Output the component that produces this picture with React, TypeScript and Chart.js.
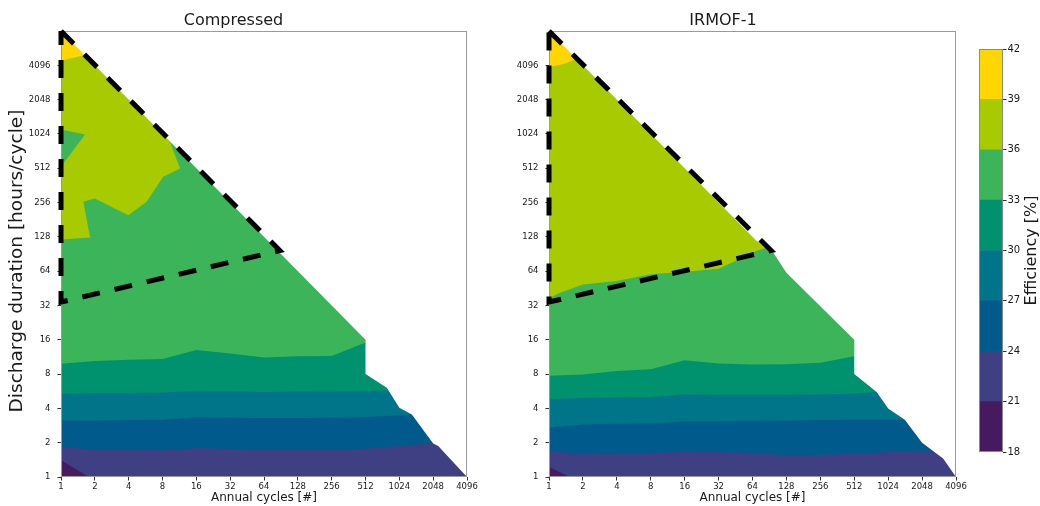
import React, { useEffect, useRef } from 'react';
import { Chart, registerables } from 'chart.js';

Chart.register(...registerables);

const FONT = "'DejaVu Sans', 'Liberation Sans', sans-serif";
const TEXT = '#1a1a1a';

// colour levels (efficiency %) and band colours
const levels = [18, 21, 24, 27, 30, 33, 36, 39, 42];
const bandColors = ['#47195f', '#3f3f84', '#005a8c', '#00758a', '#00916f', '#3cb55a', '#a8ca00', '#ffd700'];

// tick labels
const xTicks = [1, 2, 4, 8, 16, 32, 64, 128, 256, 512, 1024, 2048, 4096];
const yTicks = [1, 2, 4, 8, 16, 32, 64, 128, 256, 512, 1024, 2048, 4096];
const X_MIN = 1;
const X_MAX = 4096;
const Y_MIN = 1;
const Y_MAX = 8192;

// Geometry, in octaves: [log2(annual cycles), log2(hours/cycle)]
// ---- Compressed ----
const cmpDomain = [[0, 13], [9, 4], [9, 3], [9.63, 2.6], [10, 2.02], [10.37, 1.82], [11, 0.98], [11.15, 0.9], [12, 0]];
const cmpC21 = [[0, 0.49], [0.82, 0], [12, 0]];
const cmpC24 = [[0, 0.875], [1, 0.8], [2, 0.79], [3, 0.78], [4, 0.84], [5, 0.82], [6, 0.8], [7, 0.8], [8, 0.8], [9, 0.82], [10, 0.9], [11, 0.99]];
const cmpC27 = [[0, 1.65], [1, 1.65], [2, 1.66], [3, 1.67], [4, 1.74], [5, 1.73], [6, 1.72], [7, 1.72], [8, 1.73], [9, 1.75], [10, 1.8], [10.37, 1.82]];
const cmpC30 = [[0, 2.43], [1, 2.44], [2, 2.45], [3, 2.46], [4, 2.51], [5, 2.5], [6, 2.48], [7, 2.49], [8, 2.5], [9, 2.51], [9.68, 2.52]];
const cmpC33 = [[0, 3.3], [1, 3.38], [2, 3.42], [3, 3.44], [4, 3.7], [5, 3.6], [6, 3.48], [7, 3.52], [8, 3.53], [9, 3.92]];
const cmpC36 = [[0, 6.92], [0.86, 6.98], [0.66, 8.02], [1, 8.12], [1.99, 7.63], [2.53, 8.02], [3.02, 8.75], [3.52, 8.99], [3.22, 9.77]];
const cmpHole36 = [[0, 10.13], [0.71, 9.98], [0, 9.04]];
const cmpC39 = [[0, 12.13], [0.7, 12.3]];
const cmpDash = [[0, 13], [6.47, 6.6], [0, 5.1], [0, 13]];

// ---- IRMOF-1 ----
const irmDomain = [[0, 13], [6.1, 6.9], [6.6, 6.56], [7, 5.95], [9, 4], [9, 3], [9.66, 2.48], [10, 2], [10.49, 1.67], [11, 1], [11.62, 0.54], [12, 0]];
const irmC21 = [[0, 0.29], [0.61, 0], [12, 0]];
const irmC24 = [[0, 0.75], [1, 0.66], [2, 0.68], [3, 0.71], [4, 0.73], [5, 0.72], [6, 0.7], [7, 0.63], [8, 0.65], [9, 0.68], [10, 0.73], [11, 0.75], [11.33, 0.75]];
const irmC27 = [[0, 1.44], [1, 1.53], [2, 1.55], [3, 1.56], [4, 1.62], [5, 1.63], [6, 1.64], [7, 1.65], [8, 1.66], [9, 1.67], [10, 1.67], [10.49, 1.67]];
const irmC30 = [[0, 2.27], [1, 2.3], [2, 2.32], [3, 2.33], [4, 2.41], [5, 2.4], [6, 2.4], [7, 2.4], [8, 2.41], [9, 2.43], [9.66, 2.48]];
const irmC33 = [[0, 2.95], [1, 2.99], [2, 3.09], [3, 3.14], [4, 3.4], [5, 3.31], [6, 3.28], [7, 3.29], [8, 3.33], [9, 3.52]];
const irmC36 = [[0, 5.2], [0.27, 5.35], [1, 5.61], [2, 5.71], [3, 5.91], [4, 5.98], [5, 6.07], [5.55, 6.32], [6, 6.55], [6.4, 6.68]];
const irmC39 = [[0, 11.95], [0.4, 12.03], [0.86, 12.2]];
const irmDash = [[0, 13], [6.55, 6.6], [0, 5.1], [0, 13]];

type Pts = number[][];

const TOP_E = Math.log2(Y_MAX);
const RIGHT_E = Math.log2(X_MAX);

const toXY = (pts: Pts) => pts.map(([a, b]) => ({ x: Math.pow(2, a), y: Math.pow(2, b) }));
const regionAbove = (line: Pts): Pts => [...line, [line[line.length - 1][0], TOP_E], [line[0][0], TOP_E]];
const outsideDomain = (domain: Pts): Pts => [...domain, [RIGHT_E, TOP_E]];
const fullRect: Pts = [[0, 0], [RIGHT_E, 0], [RIGHT_E, TOP_E], [0, TOP_E]];

const poly = (pts: Pts, color: string, label: string) => ({
  label,
  data: toXY(pts),
  showLine: true,
  fill: 'shape',
  backgroundColor: color,
  borderColor: 'rgba(0,0,0,0)',
  borderWidth: 0,
  pointRadius: 0,
  pointHoverRadius: 0,
  pointHitRadius: 0,
});

type PanelSpec = {
  title: string;
  left: number;
  width: number;
  yAxisW: number;
  padRight: number;
  yTitle: string;
  domain: Pts;
  contours: Pts[];
  hole: Pts | null;
  dash: Pts;
};

const panels: PanelSpec[] = [
  {
    title: 'Compressed', left: 0, width: 528, yAxisW: 61, padRight: 61, yTitle: 'Discharge duration [hours/cycle]',
    domain: cmpDomain, contours: [cmpC21, cmpC24, cmpC27, cmpC30, cmpC33, cmpC36, cmpC39], hole: cmpHole36, dash: cmpDash,
  },
  {
    title: 'IRMOF-1', left: 490, width: 526, yAxisW: 59, padRight: 60, yTitle: '',
    domain: irmDomain, contours: [irmC21, irmC24, irmC27, irmC30, irmC33, irmC36, irmC39], hole: null, dash: irmDash,
  },
];

const framePlugin = {
  id: 'frame',
  afterDatasetDraw(chart: any, args: any) {
    const ds = chart.data.datasets[args.index];
    if (ds.label !== 'mask') return;
    const { left, top, right, bottom } = chart.chartArea;
    const ctx = chart.ctx;
    ctx.save();
    ctx.strokeStyle = '#9a9a9a';
    ctx.lineWidth = 1;
    ctx.strokeRect(Math.round(left) + 0.5, Math.round(top) + 0.5, Math.round(right - left) - 1, Math.round(bottom - top) - 1);
    ctx.restore();
  },
  afterDraw(chart: any) {
    const text = chart.options.plugins.frame?.yTitle;
    if (!text) return;
    const ctx = chart.ctx;
    const { top, bottom } = chart.chartArea;
    ctx.save();
    ctx.translate(17.5, (top + bottom) / 2 + 7);
    ctx.rotate(-Math.PI / 2);
    ctx.fillStyle = TEXT;
    ctx.font = `18.5px ${FONT}`;
    ctx.textAlign = 'center';
    ctx.textBaseline = 'middle';
    ctx.fillText(text, 0, 0);
    ctx.restore();
  },
};

function buildDatasets(spec: PanelSpec) {
  const list: any[] = [];
  list.push(poly(fullRect, bandColors[0], `${levels[0]}-${levels[1]}`));
  spec.contours.forEach((c, i) => {
    list.push(poly(regionAbove(c), bandColors[i + 1], `>${levels[i + 1]}`));
    if (i === 5 && spec.hole) list.push(poly(spec.hole, bandColors[5], 'hole'));
  });
  list.push(poly(outsideDomain(spec.domain), '#ffffff', 'mask'));
  list.push({
    label: 'boundary',
    data: toXY(spec.dash),
    showLine: true,
    fill: false,
    borderColor: '#000000',
    borderWidth: 5,
    borderDash: [18, 15],
    pointRadius: 0,
    pointHoverRadius: 0,
    pointHitRadius: 0,
    clip: false,
  });
  const n = list.length;
  list.forEach((d, i) => { d.order = n - i; });
  return list;
}

function Panel({ spec }: { spec: PanelSpec }) {
  const ref = useRef<HTMLCanvasElement>(null);
  useEffect(() => {
    const tickFont = { family: FONT, size: 8.5 };
    const gridOpts = { display: true, drawOnChartArea: false, drawTicks: true, tickLength: 3.5, color: '#333333', lineWidth: 1 };
    const chart = new Chart(ref.current as HTMLCanvasElement, {
      type: 'scatter',
      data: { datasets: buildDatasets(spec) as any },
      options: {
        animation: false,
        responsive: false,
        events: [],
        layout: { padding: { left: 0, right: spec.padRight, top: 0, bottom: 0 } },
        plugins: {
          legend: { display: false },
          tooltip: { enabled: false },
          frame: { yTitle: spec.yTitle },
          title: {
            display: true,
            text: spec.title,
            color: TEXT,
            font: { family: FONT, size: 16, weight: 'normal' },
            padding: { top: 10.8, bottom: 1 },
          },
        },
        scales: {
          x: {
            type: 'logarithmic',
            min: X_MIN,
            max: X_MAX,
            afterBuildTicks: (s: any) => { s.ticks = xTicks.map((v) => ({ value: v })); },
            afterFit: (s: any) => { s.height = 29; },
            ticks: { autoSkip: false, maxRotation: 0, minRotation: 0, padding: 1, color: TEXT, font: tickFont, callback: (v: any) => String(v) },
            grid: gridOpts,
            border: { display: false },
            title: { display: true, text: 'Annual cycles [#]', color: TEXT, font: { family: FONT, size: 12 }, padding: { top: 0, bottom: 1.2 } },
          },
          y: {
            type: 'logarithmic',
            min: Y_MIN,
            max: Y_MAX,
            afterBuildTicks: (s: any) => { s.ticks = yTicks.map((v) => ({ value: v })); },
            afterFit: (s: any) => { s.width = spec.yAxisW; },
            ticks: { autoSkip: false, padding: 7, color: TEXT, font: tickFont, callback: (v: any) => String(v) },
            grid: gridOpts,
            border: { display: false },
          },
        },
      } as any,
      plugins: [framePlugin],
    });
    return () => chart.destroy();
  }, []);
  return (
    <canvas
      ref={ref}
      width={spec.width}
      height={506}
      style={{ position: 'absolute', left: spec.left, top: 0, width: spec.width, height: 506 }}
    />
  );
}

const colorbarPlugin = {
  id: 'cbar',
  afterDraw(chart: any) {
    const ctx = chart.ctx;
    const { left, top, right, bottom } = chart.chartArea;
    ctx.save();
    ctx.strokeStyle = '#8a8a8a';
    ctx.lineWidth = 1;
    ctx.strokeRect(Math.round(left) + 0.5, Math.round(top) + 0.5, Math.round(right - left) - 1, Math.round(bottom - top) - 1);
    ctx.translate(72, (top + bottom) / 2);
    ctx.rotate(-Math.PI / 2);
    ctx.fillStyle = TEXT;
    ctx.font = `16px ${FONT}`;
    ctx.textAlign = 'center';
    ctx.textBaseline = 'middle';
    ctx.fillText('Efficiency [%]', 0, 0);
    ctx.restore();
  },
};

function Colorbar() {
  const ref = useRef<HTMLCanvasElement>(null);
  useEffect(() => {
    const chart = new Chart(ref.current as HTMLCanvasElement, {
      type: 'bar',
      data: {
        labels: [''],
        datasets: bandColors.map((c, i) => ({
          label: `${levels[i]}-${levels[i + 1]}`,
          data: [[levels[i], levels[i + 1]]],
          backgroundColor: c,
          borderWidth: 0,
          grouped: false,
          barPercentage: 1,
          categoryPercentage: 1,
        })) as any,
      },
      options: {
        animation: false,
        responsive: false,
        events: [],
        layout: { padding: { left: 19, right: 0, top: 49, bottom: 54 } },
        plugins: { legend: { display: false }, tooltip: { enabled: false } },
        scales: {
          x: { display: false },
          y: {
            position: 'right',
            min: levels[0],
            max: levels[levels.length - 1],
            afterBuildTicks: (s: any) => { s.ticks = levels.map((v) => ({ value: v })); },
            afterFit: (s: any) => { s.width = 37; },
            ticks: { padding: 1, color: TEXT, font: { family: FONT, size: 10 } },
            grid: { display: true, drawOnChartArea: false, drawTicks: true, tickLength: 3.5, color: '#333333' },
            border: { display: false },
          },
        },
      } as any,
      plugins: [colorbarPlugin],
    });
    return () => chart.destroy();
  }, []);
  return (
    <canvas
      ref={ref}
      width={80}
      height={506}
      style={{ position: 'absolute', left: 960, top: 0, width: 80, height: 506 }}
    />
  );
}

export default function App() {
  return (
    <div style={{ position: 'fixed', left: 0, top: 0, width: 1040, height: 506, background: '#ffffff', overflow: 'hidden' }}>
      {panels.map((p) => (
        <Panel key={p.title} spec={p} />
      ))}
      <Colorbar />
    </div>
  );
}
